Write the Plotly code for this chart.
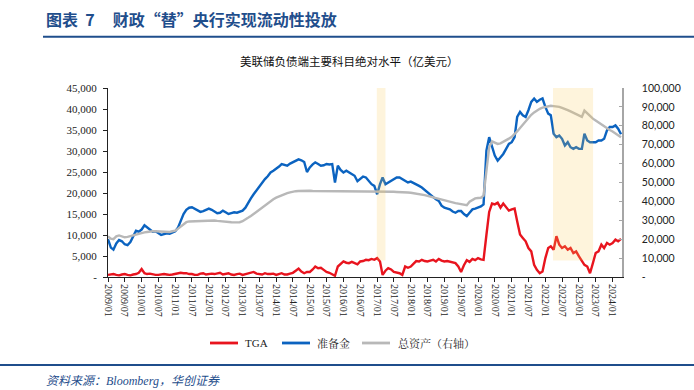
import pandas as pd
import plotly.graph_objects as go

# ---- data (monthly, 2009/01 .. 2024/04), unit: 亿美元 ----
start_month = "2009-01-01"

tga = [
    500, 700, 700, 500, 400, 600, 700, 500, 400, 600, 700, 1000,          # 2009
    1900, 900, 700, 800, 600, 500, 500, 600, 700, 600, 500, 600,          # 2010
    700, 800, 1000, 900, 900, 700, 700, 500, 500, 800, 900, 600,          # 2011
    700, 800, 700, 900, 1000, 600, 700, 900, 600, 500, 700, 800,          # 2012
    500, 700, 700, 900, 1200, 800, 700, 600, 900, 700, 700, 800,          # 2013
    500, 700, 900, 600, 600, 800, 1000, 1500, 2000, 1300, 900, 1200,      # 2014
    1200, 1800, 2500, 2100, 2200, 1700, 1200, 1000, 700, 300, 2500, 3000, # 2015
    3700, 3400, 3300, 3600, 3300, 3000, 3700, 3800, 4100, 4000, 4300, 4100,  # 2016
    4500, 3700, 500, 1500, 2100, 1800, 1200, 1000, 900, 500, 2500, 2200,  # 2017
    2500, 3200, 3800, 3700, 4100, 3800, 3700, 3900, 4100, 3700, 4300, 3900,  # 2018
    3700, 3800, 3600, 3400, 3300, 2500, 1200, 2800, 4000, 3600, 4300, 4000,  # 2019
    4500, 4200, 4100, 10000, 15500, 17500, 17300, 17700, 16500, 17500, 16500, 15800,  # 2020
    16100, 16300, 13300, 10100, 9300, 8500, 6900, 6100, 2900, 1700, 900, 1300,  # 2021
    4500, 6900, 7300, 6500, 9700, 7700, 6900, 7300, 6500, 6900, 5700, 6100,  # 2022
    4900, 3700, 2900, 2500, 900, 3300, 5700, 6100, 7700, 6900, 8100, 7700,  # 2023
    8100, 8900, 8500, 9100,                                                # 2024
]

reserves = [
    9000, 7000, 6500, 8000, 8800, 8500, 7800, 7600, 8300, 9500, 11000, 10800,  # 2009
    11300, 12300, 11800, 11200, 10800, 10900, 10500, 10000, 10200, 10400, 10300, 10600,  # 2010
    10900, 11800, 13300, 15000, 16000, 16500, 16600, 16200, 16000, 15500, 15700, 16000,  # 2011
    16300, 16000, 15600, 15200, 15300, 15800, 15400, 15000, 15200, 15400, 15300, 15500,  # 2012
    15800, 16500, 17700, 18700, 19700, 20600, 21700, 22500, 23300, 24000, 24900, 25300,  # 2013
    25700, 26300, 26900, 26700, 26500, 27000, 27300, 27600, 28000, 27800, 27400, 25000,  # 2014
    26100, 26800, 27300, 26900, 26500, 26600, 26900, 26800, 26900, 22500, 26500, 25500,  # 2015
    24900, 25300, 24900, 24500, 24100, 22800, 23300, 23900, 23700, 23000, 22100, 21700,  # 2016
    19700, 22100, 23700, 22100, 22500, 23000, 23300, 23700, 23700, 23300, 22900, 22500,  # 2017
    22700, 22400, 22100, 21700, 21300, 20700, 20100, 19500, 18900, 18500, 18100, 17000,  # 2018
    16500, 16300, 16100, 15600, 15300, 15700, 15700, 15000, 14500, 15300, 16100, 16300,  # 2019
    16500, 16800, 17300, 30100, 33300, 31300, 28900, 27700, 28500, 29300, 30500, 31700,  # 2020
    32100, 33300, 38100, 39300, 38500, 38100, 39700, 41700, 42500, 41700, 42200, 42500,  # 2021
    40500, 38900, 38500, 34100, 33300, 33700, 32900, 31300, 32100, 30900, 30500, 30900,  # 2022
    30500, 30500, 34100, 32500, 32100, 32100, 32100, 32500, 32500, 32900, 34900, 35700,  # 2023
    35700, 36100, 35300, 34000,                                                        # 2024
]

total_assets = [
    21500, 20300, 20000, 21500, 22000, 21500, 21000, 21200, 21500, 22000, 22400, 22800,  # 2009
    23300, 23600, 23800, 24100, 24200, 24200, 24100, 24000, 24000, 23900, 23800, 24200,  # 2010
    24500, 25600, 26800, 27900, 29000, 29400, 29500, 29500, 29500, 29500, 29500, 29700,  # 2011
    29900, 29900, 29900, 29700, 29500, 29400, 29200, 29100, 29000, 28900, 28900, 29000,  # 2012
    29500, 30300, 31300, 32300, 33400, 34500, 35700, 36900, 38000, 39100, 40200, 41100,  # 2013
    42000, 42700, 43400, 43900, 44400, 44800, 45200, 45400, 45500, 45600, 45600, 45600,  # 2014
    45600, 45500, 45500, 45400, 45400, 45300, 45300, 45300, 45200, 45200, 45200, 45200,  # 2015
    45200, 45100, 45100, 45100, 45200, 45200, 45300, 45300, 45300, 45300, 45300, 45300,  # 2016
    45200, 45200, 45200, 45100, 45100, 45100, 45100, 45000, 45000, 45000, 44900, 44700,  # 2017
    44600, 44400, 44200, 43900, 43600, 43300, 42900, 42500, 42000, 41600, 41200, 40800,  # 2018
    40300, 40000, 39700, 39400, 39100, 38800, 38500, 38100, 38000, 39800, 40800, 41600,  # 2019
    41800, 41900, 43000, 58000, 68600, 71800, 71300, 70400, 70700, 71400, 72100, 73200,  # 2020
    74200, 75500, 77000, 78800, 80500, 82500, 84200, 85800, 87100, 88200, 89000, 89600,  # 2021
    90000, 90500, 90600, 90400, 90300, 90000, 89500, 89000, 88300, 87600, 86900, 86200,  # 2022
    85500, 84700, 88000, 86500, 85200, 83800, 82800, 81700, 80800, 79800, 78800, 77800,  # 2023
    77000, 76100, 75200, 74000,                                                        # 2024
]

series_names = ["TGA", "准备金", "总资产（右轴）"]
series_colors = ["#E8141E", "#0B63C0", "#B8B8B8"]

shade_periods = [("2016-12-28", "2017-04-01"), ("2022-03-25", "2023-06-03")]

left_ticks = [0, 5000, 10000, 15000, 20000, 25000, 30000, 35000, 40000, 45000]
right_ticks = [0, 10000, 20000, 30000, 40000, 50000, 60000, 70000, 80000, 90000, 100000]

dates = pd.date_range(start_month, periods=len(tga), freq="MS")

def fmt(v):
    return "-" if v == 0 else f"{v:,}"

SERIF = "Liberation Serif, Noto Serif CJK SC, Noto Sans CJK SC"
CJK = "Noto Sans CJK SC"
BLUE_HDR = "#1F4E8C"

# plot-area geometry helpers (pixels -> paper)
PL, PR, PT, PB = 108, 622, 88, 277
def px(x):
    return (x - PL) / (PR - PL)
def py(y):
    return (PB - y) / (PB - PT)

fig = go.Figure()
for vals, name, col, ax in zip([tga, reserves, total_assets], series_names, series_colors, ["y", "y", "y2"]):
    fig.add_trace(go.Scatter(x=dates, y=vals, name=name, mode="lines",
                             line=dict(color=col, width=2.4), yaxis=ax, showlegend=False))

for a, b in shade_periods:
    fig.add_shape(type="rect", xref="x", yref="y", x0=a, x1=b, y0=3900, y1=45000,
                  fillcolor="rgb(248,200,80)", opacity=0.2, line_width=0, layer="above")

# manual legend
leg_y = py(343)
for (x0, x1, tx), name, col in zip([(210, 238, 243), (282, 310, 315), (362, 390, 396)],
                                   series_names, series_colors):
    fig.add_shape(type="line", xref="paper", yref="paper", x0=px(x0), x1=px(x1), y0=leg_y, y1=leg_y,
                  line=dict(color=col, width=2.8))
    fig.add_annotation(xref="paper", yref="paper", x=px(tx), y=leg_y, xanchor="left", yanchor="middle",
                       text=name, showarrow=False,
                       font=dict(family=SERIF, size=11, color="#222222"))

# header
NB = "\u00a0"
fig.add_annotation(xref="paper", yref="paper", x=px(44), y=py(19), xanchor="left", yanchor="middle",
                   text="<b>图表" + NB * 2 + "7" + NB * 5 + "财政“替”央行实现流动性投放</b>", showarrow=False,
                   font=dict(family=CJK, size=16, color=BLUE_HDR))
fig.add_shape(type="line", xref="paper", yref="paper", x0=px(43), x1=px(694), y0=py(36.7), y1=py(36.7),
              line=dict(color=BLUE_HDR, width=2))
# chart title
fig.add_annotation(xref="paper", yref="paper", x=px(349), y=py(61), xanchor="center", yanchor="middle",
                   text="美联储负债端主要科目绝对水平（亿美元）", showarrow=False,
                   font=dict(family=CJK, size=11.5, color="#111111"))
# bottom rule + source
fig.add_shape(type="line", xref="paper", yref="paper", x0=px(0), x1=px(694), y0=py(365), y1=py(365),
              line=dict(color=BLUE_HDR, width=2))
fig.add_annotation(xref="paper", yref="paper", x=px(44), y=py(381), xanchor="left", yanchor="middle",
                   text="资料来源：Bloomberg，华创证券", showarrow=False,
                   font=dict(family="Liberation Serif, Noto Sans CJK SC", size=12, color=BLUE_HDR, style="italic"))

fig.update_layout(
    width=694, height=390,
    margin=dict(l=PL, r=694 - PR, t=PT, b=390 - PB),
    paper_bgcolor="white", plot_bgcolor="white",
    showlegend=False,
    xaxis=dict(type="date", range=["2009-01-01", "2024-04-12"],
               tick0="2009-01-01", dtick="M6", tickformat="%Y/%m",
               tickangle=90, ticks="outside", ticklen=4, tickcolor="#222",
               showline=True, linecolor="#222", linewidth=1,
               showgrid=False, zeroline=False,
               tickfont=dict(family=SERIF, size=10, color="#222")),
    yaxis=dict(range=[0, 45000], tickvals=left_ticks, ticktext=[fmt(v) for v in left_ticks],
               ticks="outside", ticklen=4, tickcolor="#222",
               showline=True, linecolor="#222", linewidth=1,
               showgrid=False, zeroline=False, ticklabelstandoff=4,
               tickfont=dict(family=SERIF, size=11, color="#222")),
    yaxis2=dict(range=[0, 100000], overlaying="y", side="right",
                tickvals=right_ticks, ticktext=[fmt(v) for v in right_ticks],
                ticks="inside", ticklen=3, tickcolor="#A6A6A6",
                showline=True, linecolor="#A6A6A6", linewidth=1.5,
                showgrid=False, zeroline=False, ticklabelstandoff=16,
                tickfont=dict(family="Lato, Liberation Sans", size=10.5, color="#222")),
)

fig.write_html("out.html", config={"displayModeBar": False},
               post_script="document.body.style.margin='0';document.body.style.overflow='hidden';")
